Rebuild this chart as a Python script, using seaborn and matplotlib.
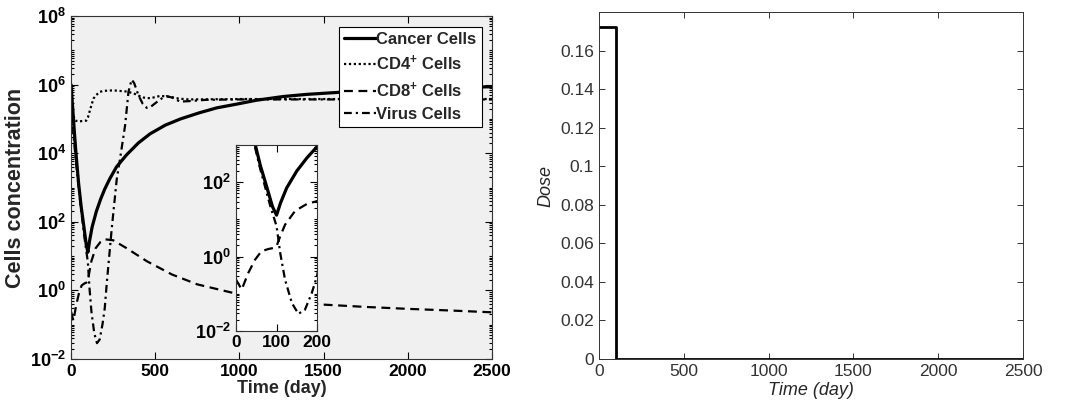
import numpy as np
import pandas as pd
import matplotlib
matplotlib.use("Agg")
import matplotlib.pyplot as plt
from matplotlib.ticker import LogLocator, FixedLocator, FuncFormatter, NullFormatter
from matplotlib.lines import Line2D
import seaborn as sns

# ---------------- data ----------------
cancer_t = [0, 10, 20, 30, 45, 60, 75, 90, 100, 110, 125, 150, 175, 200, 230, 270, 330,
            400, 470, 560, 650, 760, 865, 1000, 1100, 1260, 1400, 1600, 1800, 2000, 2250, 2500]
cancer_v = [1.0e6, 2.0e5, 4.0e4, 9.0e3, 1.3e3, 2.8e2, 80, 22, 13, 28, 70, 2.0e2, 4.5e2, 9.0e2,
            1.8e3, 4.0e3, 9.0e3, 2.0e4, 3.7e4, 6.6e4, 1.0e5, 1.5e5, 2.1e5, 2.8e5, 3.5e5, 4.5e5,
            5.2e5, 6.0e5, 6.8e5, 7.4e5, 8.1e5, 8.7e5]

cd4_t = [0, 10, 25, 50, 90, 100, 115, 133, 150, 172, 200, 250, 330, 370, 400, 430, 470,
         530, 590, 640, 700, 1000, 1500, 2000, 2500]
cd4_v = [3.2e5, 1.4e5, 8.9e4, 8.5e4, 8.9e4, 1.1e5, 2.0e5, 3.9e5, 5.0e5, 6.2e5, 6.6e5, 6.8e5,
         6.3e5, 5.6e5, 4.8e5, 4.2e5, 4.0e5, 4.7e5, 4.4e5, 3.9e5, 3.7e5, 3.8e5, 3.8e5, 3.8e5, 3.8e5]

cd8_t = [0, 14, 30, 47, 63, 80, 92, 100, 109, 121, 146, 175, 200, 250, 330, 450, 600, 750,
         960, 1200, 1480, 1750, 2000, 2250, 2500]
cd8_v = [0.24, 0.13, 0.36, 0.83, 1.4, 1.6, 1.7, 1.9, 3.5, 7.2, 17, 26, 31, 29, 17, 7.1, 2.9,
         1.5, 0.85, 0.56, 0.39, 0.33, 0.29, 0.26, 0.23]

virus_t = [0, 30, 60, 85, 100, 109, 121, 138, 154, 170, 187, 200, 212, 241, 271, 291, 321,
           341, 360, 375, 400, 425, 450, 475, 509, 540, 568, 600, 647, 700, 800, 1000, 2500]
virus_v = [2.0e5, 5.0e3, 2.2e2, 22, 6.6, 1.26, 0.24, 0.056, 0.029, 0.037, 0.105, 0.30, 1.6,
           59, 1.7e3, 6.9e3, 6.5e4, 6.2e5, 1.4e6, 1.1e6, 4.9e5, 2.8e5, 2.1e5, 2.3e5, 3.1e5,
           4.0e5, 4.6e5, 4.2e5, 3.2e5, 3.3e5, 3.6e5, 3.7e5, 3.7e5]

series_labels = ["Cancer Cells", r"CD4$^{\mathbf{+}}$ Cells", r"CD8$^{\mathbf{+}}$ Cells", "Virus Cells"]

dose_t = [0, 100, 100, 2500]
dose_v = [0.172, 0.172, 0.0, 0.0]

x_ticks = [0, 500, 1000, 1500, 2000, 2500]
inset_x_ticks = [0, 100, 200]
dose_y_ticks = [0, 0.02, 0.04, 0.06, 0.08, 0.1, 0.12, 0.14, 0.16]

# ---------------- style ----------------
sns.set_theme(style="ticks")
plt.rcParams["font.family"] = ["Liberation Sans", "DejaVu Sans"]
plt.rcParams["mathtext.fontset"] = "custom"
plt.rcParams["mathtext.rm"] = "Liberation Sans:bold"
plt.rcParams["mathtext.bf"] = "Liberation Sans:bold"
plt.rcParams["mathtext.it"] = "Liberation Sans:bold:italic"
plt.rcParams["mathtext.default"] = "bf"

fig = plt.figure(figsize=(10.7, 4.12), dpi=100)
ax1 = fig.add_axes([0.0664, 0.1286, 0.3935, 0.8325])
ax2 = fig.add_axes([0.5598, 0.1286, 0.3963, 0.8422])
axin = fig.add_axes([0.2206, 0.1966, 0.0757, 0.4515])

styles = [
    dict(linestyle="-", linewidth=2.3),
    dict(linestyle=(0, (1, 1.2)), linewidth=1.6),
    dict(linestyle=(0, (4, 2.5)), linewidth=1.6),
    dict(linestyle=(0, (3.5, 1.8, 1, 1.8)), linewidth=1.6),
]
data = [(cancer_t, cancer_v), (cd4_t, cd4_v), (cd8_t, cd8_v), (virus_t, virus_v)]

def logfmt(v, p):
    e = int(round(np.log10(v)))
    return r"$\mathbf{10^{%d}}$" % e

def style_log_axis(ax):
    ax.set_yscale("log")
    ax.yaxis.set_major_locator(LogLocator(base=100, numticks=20))
    ax.yaxis.set_minor_locator(LogLocator(base=10, subs=np.arange(1, 10), numticks=100))
    ax.yaxis.set_major_formatter(FuncFormatter(logfmt))
    ax.yaxis.set_minor_formatter(NullFormatter())
    ax.tick_params(which="both", direction="in", top=True, right=True, colors="black",
                   labelsize=13, width=0.8)
    ax.tick_params(which="major", length=5)
    ax.tick_params(which="minor", length=2.5)
    for s in ax.spines.values():
        s.set_color("#333333")
        s.set_linewidth(0.8)

# main panel
ax1.set_facecolor("#f0f0f0")
for (t, v), lab, st in zip(data, series_labels, styles):
    sns.lineplot(x=t, y=v, ax=ax1, color="black", label=lab, sort=False, estimator=None, **st)
ax1.set_xlim(0, 2500)
ax1.set_ylim(1e-2, 1e8)
style_log_axis(ax1)
ax1.xaxis.set_major_locator(FixedLocator(x_ticks))
ax1.set_xticklabels([str(x) for x in x_ticks], fontweight="bold", fontsize=12.5)
ax1.set_xlabel("Time (day)", fontsize=13, fontweight="bold", labelpad=1)
ax1.set_ylabel("Cells concentration", fontsize=15.5, fontweight="bold", labelpad=3)
handles = [Line2D([0], [0], color="black", **st) for st in styles]
leg = ax1.legend(handles, series_labels, loc="upper right", bbox_to_anchor=(0.975, 0.968),
                 prop={"weight": "bold", "size": 12}, frameon=True, fancybox=False,
                 edgecolor="black", facecolor="white", framealpha=1, handlelength=1.9,
                 handletextpad=0.05, borderpad=0.3, labelspacing=0.42, borderaxespad=0)
leg.get_frame().set_linewidth(0.8)

# inset
axin.set_facecolor("white")
for (t, v), st in zip(data, styles):
    sns.lineplot(x=t, y=v, ax=axin, color="black", sort=False, estimator=None, legend=False, **st)
axin.set_xlim(0, 200)
axin.set_ylim(1e-2, 1e3)
style_log_axis(axin)
axin.xaxis.set_major_locator(FixedLocator(inset_x_ticks))
axin.set_xticklabels([str(x) for x in inset_x_ticks], fontweight="bold", fontsize=12.5)
axin.set_xlabel("")
axin.set_ylabel("")
axin.tick_params(axis="x", pad=3)

# dose panel
sns.lineplot(x=dose_t, y=dose_v, ax=ax2, color="black", linewidth=2.0, sort=False, estimator=None)
ax2.set_xlim(0, 2500)
ax2.set_ylim(0, 0.18)
ax2.xaxis.set_major_locator(FixedLocator(x_ticks))
ax2.yaxis.set_major_locator(FixedLocator(dose_y_ticks))
ax2.yaxis.set_major_formatter(FuncFormatter(lambda v, p: "%g" % v))
ax2.tick_params(which="both", direction="in", top=True, right=True, length=4, width=0.7,
                colors="#333333", labelsize=12.5, labelcolor="#333333")
for s in ax2.spines.values():
    s.set_color("#333333")
    s.set_linewidth(0.7)
ax2.set_xlabel("Time (day)", fontsize=13, fontstyle="italic", color="#262626", labelpad=2)
ax2.set_ylabel("Dose", fontsize=13, fontstyle="italic", color="#262626", labelpad=4)

fig.savefig("out.png", dpi=100, facecolor="white")
